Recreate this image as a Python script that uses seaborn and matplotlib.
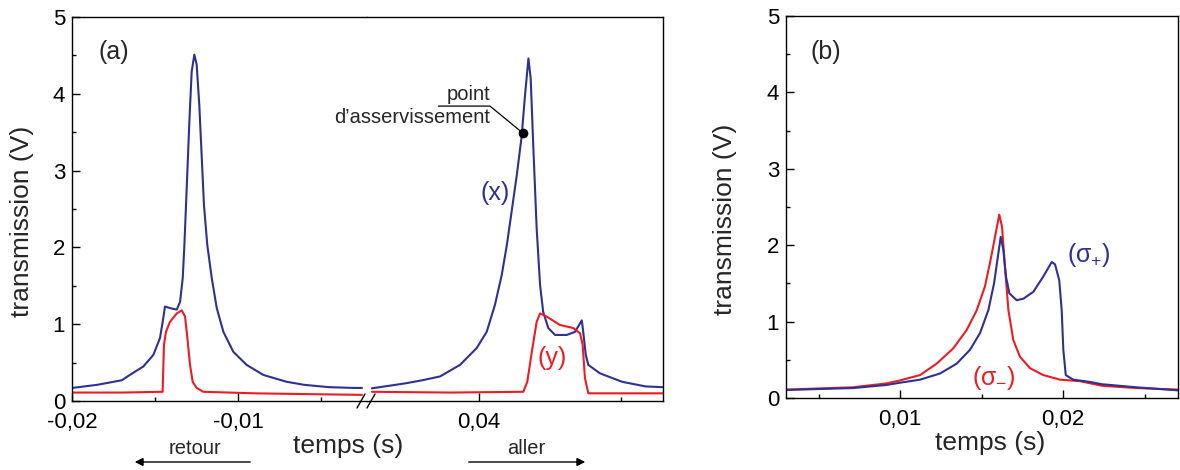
import numpy as np
import pandas as pd
import matplotlib
matplotlib.use('Agg')
import matplotlib.pyplot as plt
from matplotlib.ticker import FuncFormatter, MultipleLocator, FixedLocator
from matplotlib.lines import Line2D
import seaborn as sns

# ---- data ----
# panel (a), "retour" sweep (left part of the broken axis)
t_retour_x = [-0.0200, -0.0185, -0.0170, -0.01651, -0.0157, -0.0151, -0.0147, -0.0145, -0.0144,
              -0.0141, -0.01369, -0.01349, -0.01333, -0.01323, -0.01309, -0.01293, -0.01279,
              -0.01263, -0.01249, -0.01233, -0.01219, -0.01205, -0.01185, -0.01158, -0.01128,
              -0.01088, -0.01028, -0.00948, -0.00848, -0.00707, -0.0060, -0.0045, -0.0030, -0.00253]
v_retour_x = [0.17, 0.21, 0.27, 0.34, 0.45, 0.60, 0.82, 1.08, 1.23,
              1.21, 1.19, 1.29, 1.60, 2.03, 2.77, 3.64, 4.29,
              4.51, 4.38, 3.85, 3.20, 2.55, 2.03, 1.60, 1.21,
              0.90, 0.64, 0.47, 0.34, 0.25, 0.21, 0.18, 0.17, 0.17]
t_retour_y = [-0.0200, -0.0170, -0.01454, -0.01446, -0.01434, -0.0141, -0.01369, -0.01339,
              -0.01319, -0.01305, -0.01289, -0.01273, -0.01249, -0.01209, -0.0090, -0.0060, -0.00253]
v_retour_y = [0.11, 0.11, 0.12, 0.73, 0.90, 1.03, 1.14, 1.18,
              1.10, 0.82, 0.47, 0.25, 0.17, 0.12, 0.10, 0.09, 0.08]

# panel (a), "aller" sweep (right part of the broken axis)
t_aller_x = [0.03623, 0.03741, 0.0380, 0.03863, 0.03933, 0.03992, 0.04027, 0.04056, 0.0408,
             0.04098, 0.04115, 0.04133, 0.0415, 0.04162, 0.04174, 0.04182, 0.04191, 0.04203,
             0.04215, 0.04226, 0.04244, 0.04268, 0.04309, 0.04338, 0.04362, 0.04367, 0.04376,
             0.04385, 0.04426, 0.04504, 0.04586, 0.04646]
v_aller_x = [0.165, 0.23, 0.27, 0.32, 0.47, 0.69, 0.90, 1.25, 1.64,
             2.03, 2.47, 2.94, 3.44, 3.98, 4.46, 4.20, 3.33, 2.25,
             1.51, 1.16, 0.95, 0.86, 0.86, 0.90, 1.05, 0.90, 0.60,
             0.47, 0.36, 0.25, 0.19, 0.18]
t_aller_y = [0.03623, 0.0390, 0.04156, 0.0417, 0.04186, 0.04203, 0.04215, 0.04238, 0.04285,
             0.04332, 0.04356, 0.04365, 0.04373, 0.04385, 0.0450, 0.04646]
v_aller_y = [0.12, 0.11, 0.12, 0.25, 0.64, 1.03, 1.14, 1.10, 0.99,
             0.95, 0.88, 0.73, 0.30, 0.10, 0.10, 0.10]

# lock point ("point d'asservissement")
lock_t, lock_v = 0.04154, 3.49

# panel (b)
t_sigma_p = [0.0030, 0.0071, 0.00914, 0.0100, 0.01123, 0.01245, 0.01348, 0.01429, 0.01491,
             0.01542, 0.01577, 0.01603, 0.01618, 0.01634, 0.0165, 0.01671, 0.01716, 0.01757,
             0.01818, 0.01879, 0.01931, 0.01951, 0.01977, 0.01992, 0.02002, 0.02017, 0.02063,
             0.02166, 0.0224, 0.0245, 0.02706]
v_sigma_p = [0.105, 0.13, 0.17, 0.20, 0.24, 0.32, 0.45, 0.63, 0.85,
             1.15, 1.50, 1.89, 2.11, 1.94, 1.59, 1.37, 1.28, 1.30,
             1.39, 1.59, 1.78, 1.75, 1.54, 1.15, 0.63, 0.30, 0.24,
             0.21, 0.18, 0.14, 0.10]
t_sigma_m = [0.0030, 0.0071, 0.00914, 0.0100, 0.01123, 0.01225, 0.01327, 0.01409, 0.01471,
             0.01521, 0.01556, 0.01583, 0.01609, 0.01626, 0.01644, 0.01665, 0.01695, 0.01736,
             0.01798, 0.01879, 0.01982, 0.02104, 0.0224, 0.0245, 0.02706]
v_sigma_m = [0.11, 0.14, 0.19, 0.23, 0.30, 0.45, 0.65, 0.89, 1.15,
             1.46, 1.81, 2.11, 2.40, 2.24, 1.72, 1.15, 0.76, 0.54,
             0.39, 0.30, 0.24, 0.22, 0.16, 0.13, 0.11]

BLUE = '#2E3192'
RED = '#ED1C24'

sns.set_theme(style='ticks', rc={'axes.edgecolor': 'black', 'xtick.color': 'black',
                                 'ytick.color': 'black', 'axes.linewidth': 1.0})
plt.rcParams['font.family'] = ['Liberation Sans', 'DejaVu Sans']
plt.rcParams['mathtext.default'] = 'regular'

W, H = 1180, 470
fig = plt.figure(figsize=(11.8, 4.7), dpi=100)


def box(x0, y0, x1, y1):
    return [x0 / W, 1 - y1 / H, (x1 - x0) / W, (y1 - y0) / H]


def fxy(x, y):
    return x / W, 1 - y / H


ax1 = fig.add_axes(box(72, 17, 367, 401))
ax2 = fig.add_axes(box(367, 17, 663, 401))
ax3 = fig.add_axes(box(786, 16, 1178, 398))

comma = FuncFormatter(lambda v, p: ('%g' % v).replace('.', ','))


def curve(ax, t, v, color):
    sns.lineplot(x=t, y=v, ax=ax, color=color, linewidth=1.5, sort=False, estimator=None)


curve(ax1, t_retour_x, v_retour_x, BLUE)
curve(ax1, t_retour_y, v_retour_y, RED)
curve(ax2, t_aller_x, v_aller_x, BLUE)
curve(ax2, t_aller_y, v_aller_y, RED)
curve(ax3, t_sigma_m, v_sigma_m, RED)
curve(ax3, t_sigma_p, v_sigma_p, BLUE)

ax1.set_xlim(-0.02, -0.002229)
ax2.set_xlim(0.036056, 0.046479)
ax3.set_xlim(0.003006, 0.027055)

ax1.xaxis.set_major_locator(FixedLocator([-0.02, -0.01]))
ax1.xaxis.set_minor_locator(FixedLocator([-0.015, -0.005]))
ax2.xaxis.set_major_locator(FixedLocator([0.04]))
ax2.xaxis.set_minor_locator(FixedLocator([0.045]))
ax3.xaxis.set_major_locator(FixedLocator([0.01, 0.02]))
ax3.xaxis.set_minor_locator(FixedLocator([0.005, 0.015, 0.025]))

for ax in (ax1, ax2, ax3):
    ax.set_ylim(0, 5)
    ax.set_xlabel('')
    ax.set_ylabel('')
    ax.yaxis.set_major_locator(MultipleLocator(1))
    ax.yaxis.set_minor_locator(MultipleLocator(0.5))
    ax.xaxis.set_major_formatter(comma)
    ax.yaxis.set_major_formatter(comma)
    ax.tick_params(which='both', direction='in', top=False, right=False, labelsize=16, width=1)
    ax.tick_params(which='major', length=6)
    ax.tick_params(which='minor', length=3)
    ax.tick_params(axis='x', pad=8)
    ax.tick_params(axis='y', pad=5)
    for s in ax.spines.values():
        s.set_visible(True)
        s.set_linewidth(1.0)

ax1.spines['right'].set_visible(False)
ax2.spines['left'].set_visible(False)
ax2.tick_params(axis='y', which='both', left=False, labelleft=False)

# lock point annotation
ax2.plot([lock_t], [lock_v], 'o', color='black', markersize=6, zorder=5)
ax2.plot([lock_t, 0.040387, 0.038567], [lock_v, 3.84, 3.84], color='black', lw=0.9, clip_on=False)
ax2.text(0.040387, 3.87, 'point', ha='right', va='bottom', fontsize=14.5)
ax2.text(0.040387, 3.81, 'd\u2019asservissement', ha='right', va='top', fontsize=14.5)

# break marks on the x axis
for xc in (361, 371):
    x0, y0 = fxy(xc - 4, 408)
    x1, y1 = fxy(xc + 4, 394)
    fig.add_artist(Line2D([x0, x1], [y0, y1], color='black', lw=1.0))

# labels
fig.text(*fxy(114, 52), '(a)', fontsize=18, ha='center', va='center')
fig.text(*fxy(826, 52), '(b)', fontsize=18, ha='center', va='center')
fig.text(*fxy(495, 193), '(x)', fontsize=18, ha='center', va='center', color=BLUE)
fig.text(*fxy(552, 358), '(y)', fontsize=18, ha='center', va='center', color=RED)
fig.text(*fxy(1089, 255), '(\u03c3$_{+}$)', fontsize=18, ha='center', va='center', color=BLUE)
fig.text(*fxy(994, 378), '(\u03c3$_{-}$)', fontsize=18, ha='center', va='center', color=RED)

fig.text(*fxy(22, 221), 'transmission (V)', fontsize=19, rotation=90, ha='center', va='center')
fig.text(*fxy(725, 219), 'transmission (V)', fontsize=19, rotation=90, ha='center', va='center')
fig.text(*fxy(348, 446), 'temps (s)', fontsize=19, ha='center', va='center')
fig.text(*fxy(990, 443), 'temps (s)', fontsize=19, ha='center', va='center')

fig.text(*fxy(195, 448), 'retour', fontsize=14.5, ha='center', va='center')
fig.text(*fxy(526, 448), 'aller', fontsize=14.5, ha='center', va='center')
fig.add_artist(matplotlib.patches.FancyArrowPatch(fxy(253, 462), fxy(132, 462),
               transform=fig.transFigure, arrowstyle='-|>', mutation_scale=12, lw=1.0, color='black'))
fig.add_artist(matplotlib.patches.FancyArrowPatch(fxy(466, 462), fxy(588, 462),
               transform=fig.transFigure, arrowstyle='-|>', mutation_scale=12, lw=1.0, color='black'))

fig.savefig('out.png', dpi=100)
